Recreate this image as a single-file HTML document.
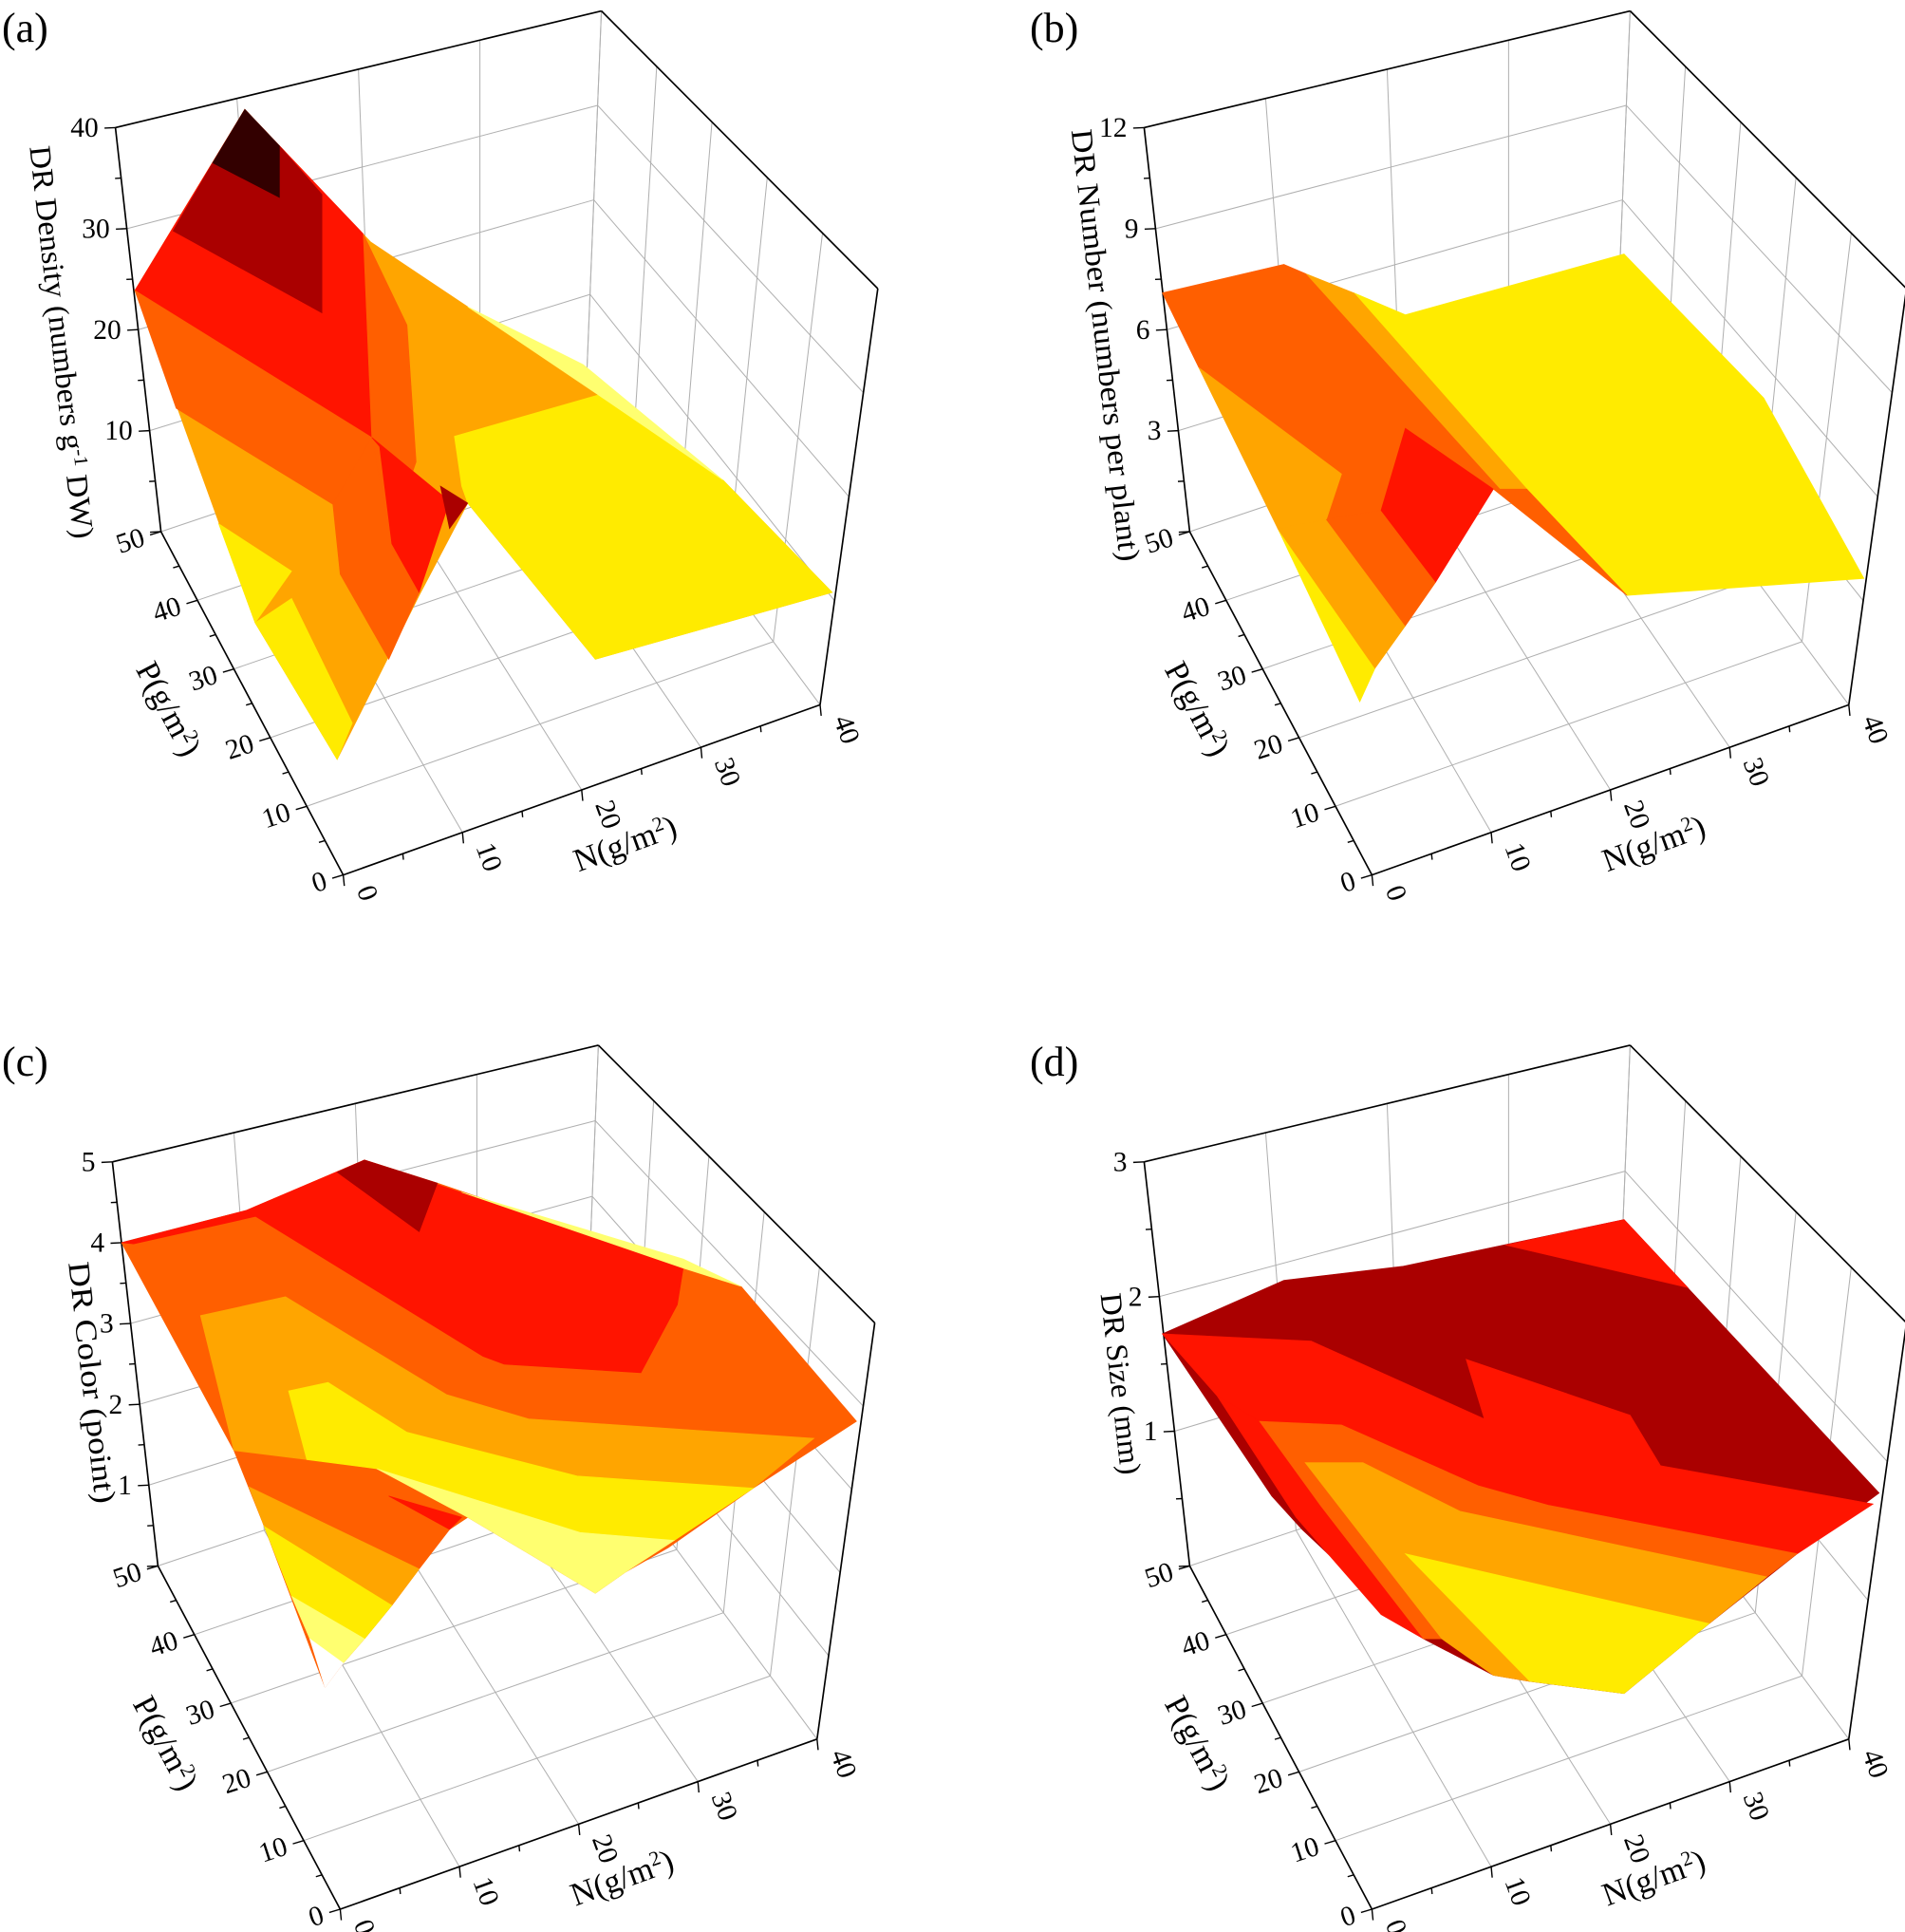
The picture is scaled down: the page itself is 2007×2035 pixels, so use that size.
<!DOCTYPE html>
<html><head><meta charset="utf-8">
<style>html,body{margin:0;padding:0;background:#fff;}svg{display:block;}</style>
</head><body>
<svg id="s" xmlns="http://www.w3.org/2000/svg" width="2007" height="2035" viewBox="0 0 2007 2035">
<rect width="2007" height="2035" fill="#fff"/>
</svg>
<script>
const F={f00:[565,1440],f10:[1350,1160],f01:[265,875],f11:[965,640],t00:[560,710],t10:[1445,475],t01:[190,210],t11:[990,18]};
function bil(a,b,c,d,u,v){return [a[0]*(1-u)*(1-v)+b[0]*u*(1-v)+c[0]*(1-u)*v+d[0]*u*v, a[1]*(1-u)*(1-v)+b[1]*u*(1-v)+c[1]*(1-u)*v+d[1]*u*v];}
function pt(n,p,z){const u=n/40,v=p/50;const b=bil(F.f00,F.f10,F.f01,F.f11,u,v),t=bil(F.t00,F.t10,F.t01,F.t11,u,v);return [b[0]+(t[0]-b[0])*z,b[1]+(t[1]-b[1])*z];}
function L(a,b,c,w){return `<line x1="${a[0].toFixed(1)}" y1="${a[1].toFixed(1)}" x2="${b[0].toFixed(1)}" y2="${b[1].toFixed(1)}" stroke="${c}" stroke-width="${w}"/>`;}
const C={k:'#330000',d:'#aa0000',r:'#ff1400',o:'#ff5f00',a:'#ffa500',y:'#ffeb00',l:'#ffff70',w:'#ffffff'};
function polys(list){return list.map(([c,pts])=>`<polygon fill="${C[c]}" stroke="${C[c]}" stroke-width="1" points="${pts}"/>`).join('');}
const SA=[
['a','222,478 403,180 610,398 770,505 985,650 1190,790 1370,975 980,1085 770,828 690,980 555,1250 420,1025'],
['y','748,718 985,650 1190,790 1370,975 980,1085 770,828 760,800'],
['l','770,505 960,600 1190,790 985,650'],
['r','222,478 403,180 598,385 612,720'],
['d','285,380 350,268 460,325 460,240 530,320 530,515'],
['k','350,268 403,180 460,240 460,325'],
['o','598,385 670,535 685,760 640,890 612,720'],
['o','222,478 612,720 548,830 290,672'],
['o','548,830 612,720 645,895 690,975 640,1085 560,945'],
['r','612,720 740,825 690,975 645,895 625,735'],
['d','725,800 770,828 740,870'],
['y','360,862 480,940 420,1025'],
['y','420,1025 480,985 580,1190 555,1250']
];
const SB=[
['y','655,482 740,518 1100,418 1330,655 1495,952 1105,980 940,805'],
['a','575,450 655,482 940,805 900,810'],
['o','340,482 540,435 575,450 900,810 885,805 740,705 700,840 610,855 635,780 400,605'],
['a','400,605 635,780 610,855 530,870'],
['y','530,870 690,1100 665,1155'],
['a','530,870 610,855 740,1030 690,1100'],
['o','610,855 700,840 790,958 740,1030'],
['r','700,840 740,705 885,805 790,958'],
['o','885,805 940,805 1105,980']
];
const SC=[
['o','200,428 405,375 600,292 720,330 1220,500 1410,722 1240,832 1100,930 1030,970 980,1005 770,880 740,900 690,965 645,1025 600,1080 565,1120 535,1160 435,895 385,770'],
['r','200,428 405,375 420,385 220,430'],
['r','405,375 600,292 1125,468 1115,530 1055,642 830,628 795,615'],
['d','555,312 600,292 720,330 690,410'],
['l','760,345 1125,455 1220,500 1125,470'],
['a','330,548 470,517 735,678 870,718 1340,750 1240,832 950,812 670,740 540,658 475,672 505,785 385,770'],
['y','475,672 540,658 670,740 950,812 1240,832 1110,918 955,905 620,800 505,785'],
['l','620,800 955,905 1110,918 1030,970 980,1005 770,880'],
['r','640,845 760,880 740,900'],
['a','410,830 690,965 645,1025 435,895'],
['y','435,895 645,1025 600,1080 480,1010'],
['l','480,1010 600,1080 565,1120 510,1080'],
['w','510,1080 565,1120 535,1160']
];
const SD=[
['d','340,578 540,490 735,467 1100,390 1520,840 1385,940 1240,1055 1100,1170 945,1150 885,1140 770,1080 660,985 570,900 520,845'],
['r','905,432 1100,390 1205,502'],
['r','340,578 585,590 870,718 840,620 1110,712 1160,795 1510,858 1385,940 975,860 860,828 635,728 500,722 430,680'],
['r','430,680 500,722 640,905 770,1080 700,1040 560,880'],
['o','500,722 635,728 860,828 975,860 1385,940 1335,978 830,870 670,790 575,790 800,1080 770,1080 600,860'],
['a','575,790 670,790 830,870 1335,978 1240,1055 740,940 945,1150 885,1140 800,1080'],
['y','740,940 1240,1055 1100,1170 945,1150']
];
function panel(tx,ty,sx,sy,surf,zl,ztitle,tlen,tcx,tcy){
 let g=`<g transform="translate(${tx},${ty}) scale(0.64)" font-family="Liberation Serif, serif">`;
 const gc='#b0b0b0',gw=1.6,k=zl.length;
 let zs=[];for(let i=1;i<=k;i++)zs.push(i/k);
 for(const n of [10,20,30,40])g+=L(pt(n,50,0),pt(n,50,1),gc,gw);
 for(const z of zs)g+=L(pt(0,50,z),pt(40,50,z),gc,gw);
 for(const p of [10,20,30,40,50])g+=L(pt(40,p,0),pt(40,p,1),gc,gw);
 for(const z of zs)g+=L(pt(40,0,z),pt(40,50,z),gc,gw);
 for(const p of [10,20,30,40,50])g+=L(pt(0,p,0),pt(40,p,0),gc,gw);
 for(const n of [10,20,30,40])g+=L(pt(n,0,0),pt(n,50,0),gc,gw);
 const bk='#000',bw=2.6;
 g+=L(pt(0,50,0),pt(0,50,1),bk,bw);g+=L(pt(0,0,0),pt(0,50,0),bk,bw);g+=L(pt(0,0,0),pt(40,0,0),bk,bw);
 g+=L(pt(0,50,1),pt(40,50,1),bk,bw);g+=L(pt(40,50,1),pt(40,0,1),bk,bw);g+=L(pt(40,0,1),pt(40,0,0),bk,bw);
 for(let i=0;i<=2*k;i++){const q=pt(0,50,i/(2*k));const len=i%2?10:18;g+=L(q,[q[0]-len,q[1]+len*0.05],bk,2.2);}
 for(let p=0;p<=50;p+=5){const q=pt(0,p,0);const len=p%10?10:18;g+=L(q,[q[0]-len,q[1]+len*0.3],bk,2.2);}
 for(let n=0;n<=40;n+=5){const q=pt(n,0,0);const len=n%10?10:18;g+=L(q,[q[0]+len*0.1,q[1]+len],bk,2.2);}
 g+=`<g transform="translate(${sx},${sy})">${polys(surf)}</g>`;
 for(let i=1;i<=k;i++){const q=pt(0,50,i/k);g+=`<text x="${q[0]-28}" y="${q[1]+15}" font-size="46" text-anchor="end">${zl[i-1]}</text>`;}
 for(let p=0;p<=50;p+=10){const q=pt(0,p,0);const x=q[0]-24,y=q[1]+22;g+=`<text x="${x}" y="${y}" font-size="46" text-anchor="end" transform="rotate(-18 ${x} ${y})">${p}</text>`;}
 for(let n=0;n<=40;n+=10){const q=pt(n,0,0);const x=q[0]+22,y=q[1]+24;g+=`<text x="${x}" y="${y}" font-size="46" transform="rotate(70 ${x} ${y})">${n}</text>`;}
 g+=`<text x="0" y="0" font-size="50" text-anchor="middle" textLength="${tlen}" lengthAdjust="spacingAndGlyphs" transform="translate(${tcx},${tcy}) rotate(83.6)">${ztitle}</text>`;
 g+=`<text x="0" y="0" font-size="54" text-anchor="middle" transform="translate(262,1175) rotate(62)">P(g/m<tspan font-size="34" dy="-18">2</tspan><tspan dy="18">)</tspan></text>`;
 g+=`<text x="0" y="0" font-size="54" text-anchor="middle" transform="translate(1035,1405) rotate(-20)">N(g/m<tspan font-size="34" dy="-18">2</tspan><tspan dy="18">)</tspan></text>`;
 g+='</g>';return g;}
let out='';
out+=panel(0,0,0,0,SA,['10','20','30','40'],'DR Density (numbers g<tspan font-size="32" dy="-16">-1</tspan><tspan dy="16"> DW)</tspan>',650,85,565);
out+=panel(1083.8,0,-120,0,SB,['3','6','9','12'],'DR Number (numbers per plant)',715,110,570);
out+=panel(-3.2,1089.4,5,-85,SC,['1','2','3','4','5'],'DR Color (point)',400,140,575);
out+=panel(1083.8,1089.4,-120,-85,SD,['1','2','3'],'DR Size (mm)',300,135,577);
out+=`<g font-family="Liberation Serif, serif" font-size="44"><text x="2" y="44">(a)</text><text x="1085" y="44">(b)</text><text x="2" y="1133">(c)</text><text x="1085" y="1133">(d)</text></g>`;
document.getElementById('s').insertAdjacentHTML('beforeend',out);
</script>
</body></html>
